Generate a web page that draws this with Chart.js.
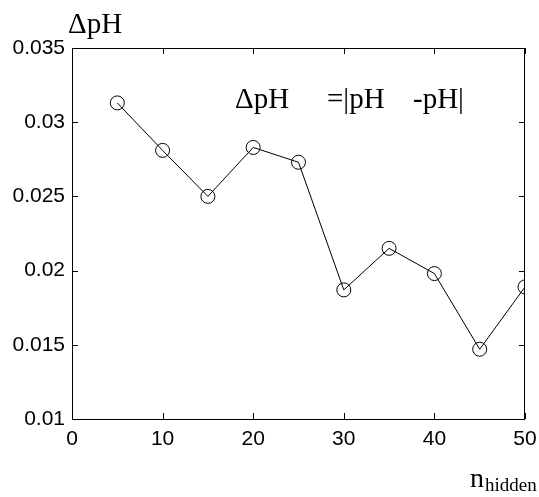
<!DOCTYPE html>
<html>
<head>
<meta charset="utf-8">
<script src="https://cdn.jsdelivr.net/npm/chart.js@4/dist/chart.umd.min.js"></script>
<style>
  html, body { margin: 0; padding: 0; background: #fff; }
  #wrap { width: 539px; height: 497px; }
</style>
</head>
<body>
<div id="wrap"><canvas id="myChart" width="539" height="497"></canvas></div>
<script>
// data
const nHidden = [5, 10, 15, 20, 25, 30, 35, 40, 45, 50];
const deltaPH = [0.0313, 0.0281, 0.025, 0.0283, 0.0273, 0.0187, 0.0215, 0.0198, 0.0147, 0.0189];

const xTicks = [0, 10, 20, 30, 40, 50];
const yTicks = [0.01, 0.015, 0.02, 0.025, 0.03, 0.035];
const yTickLabels = ["0.01", "0.015", "0.02", "0.025", "0.03", "0.035"];

const serif = "'Liberation Serif', 'Times New Roman', serif";
const sans = "'Liberation Sans', Arial, sans-serif";

// frame, inward ticks and the free text labels
const framePlugin = {
  id: "frame",
  afterDraw(chart) {
    const ctx = chart.ctx;
    const a = chart.chartArea;
    const xs = chart.scales.x;
    const ys = chart.scales.y;
    const len = 6;
    ctx.save();
    ctx.strokeStyle = "#000";
    ctx.lineWidth = 1;
    ctx.strokeRect(a.left + 0.5, a.top + 0.5, a.right - a.left - 1, a.bottom - a.top);
    ctx.beginPath();
    xTicks.forEach((v) => {
      const px = Math.round(xs.getPixelForValue(v)) + 0.5;
      ctx.moveTo(px, a.bottom);
      ctx.lineTo(px, a.bottom - len);
      ctx.moveTo(px, a.top);
      ctx.lineTo(px, a.top + len);
    });
    yTicks.forEach((v) => {
      const py = Math.round(ys.getPixelForValue(v)) + 0.5;
      ctx.moveTo(a.left, py);
      ctx.lineTo(a.left + len, py);
      ctx.moveTo(a.right, py);
      ctx.lineTo(a.right - len, py);
    });
    ctx.stroke();

    ctx.fillStyle = "#000";
    ctx.textBaseline = "alphabetic";
    ctx.textAlign = "left";
    ctx.font = "29px " + serif;
    // y axis title
    ctx.fillText("\u0394pH", 68, 33);
    // formula, subscripts are blank in the source
    ctx.fillText("\u0394pH", 235, 108);
    ctx.fillText("=|pH", 327, 108);
    ctx.fillText("-pH|", 413, 108);
    // x axis title
    ctx.font = "28px " + serif;
    ctx.fillText("n", 470, 487);
    ctx.font = "19px " + serif;
    ctx.fillText("hidden", 485, 491);
    ctx.restore();
  }
};

const ctx = document.getElementById("myChart").getContext("2d");
new Chart(ctx, {
  type: "line",
  data: {
    datasets: [
      {
        data: nHidden.map((n, i) => ({ x: n, y: deltaPH[i] })),
        borderColor: "#000",
        borderWidth: 1,
        backgroundColor: "rgba(0,0,0,0)",
        pointStyle: "circle",
        pointRadius: 7,
        pointBorderWidth: 1,
        pointBorderColor: "#000",
        pointBackgroundColor: "rgba(0,0,0,0)",
        tension: 0,
        clip: 0,
      },
    ],
  },
  options: {
    responsive: false,
    animation: false,
    devicePixelRatio: 1,
    layout: { padding: { left: 0, right: 14, top: 48, bottom: 0 } },
    plugins: {
      legend: { display: false },
      tooltip: { enabled: false },
    },
    scales: {
      x: {
        type: "linear",
        min: 0,
        max: 50,
        afterBuildTicks: (s) => { s.ticks = xTicks.map((v) => ({ value: v })); },
        afterFit: (s) => { s.height = 78; s.paddingLeft = 0; s.paddingRight = 0; },
        grid: { drawOnChartArea: false, drawTicks: false },
        border: { display: false },
        ticks: {
          color: "#000",
          font: { family: sans, size: 21 },
          padding: 8,
          maxRotation: 0,
          callback: (v) => String(v),
        },
      },
      y: {
        type: "linear",
        min: 0.01,
        max: 0.035,
        afterBuildTicks: (s) => { s.ticks = yTicks.map((v) => ({ value: v })); },
        afterFit: (s) => { s.width = 72; s.paddingTop = 0; s.paddingBottom = 0; },
        grid: { drawOnChartArea: false, drawTicks: false },
        border: { display: false },
        ticks: {
          color: "#000",
          font: { family: sans, size: 21 },
          padding: 7,
          callback: (v) => yTickLabels[yTicks.findIndex((t) => Math.abs(t - v) < 1e-9)],
        },
      },
    },
  },
  plugins: [framePlugin],
});
</script>
</body>
</html>
